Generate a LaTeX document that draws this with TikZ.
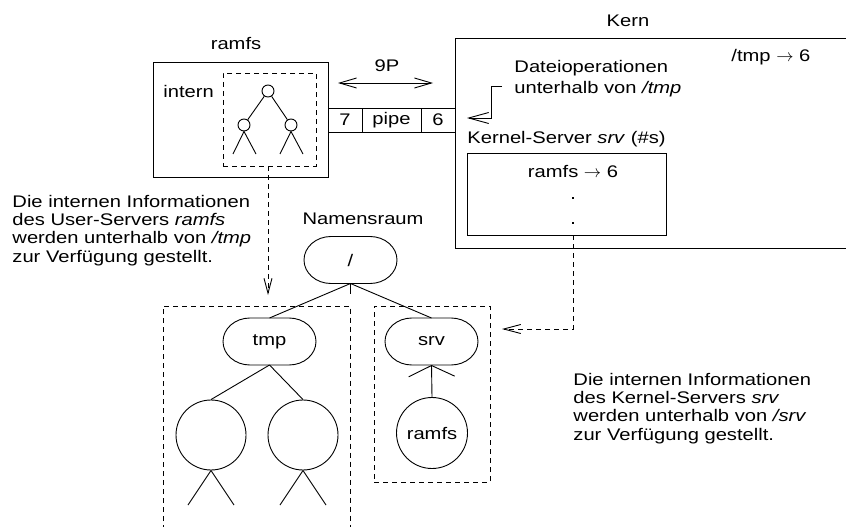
\documentclass[tikz,border=0pt]{standalone}
\usepackage{fontspec}
\setmainfont{Liberation Sans}[FakeStretch=1.2]
\usetikzlibrary{arrows.meta}
% outline with half-elliptic ends around a named node
\newcommand{\capsuleoutline}[1]{%
  \draw ([xshift=27pt]#1.north west) -- ([xshift=-27pt]#1.north east)
    arc[start angle=90, end angle=-90, x radius=27pt, y radius=23.5pt]
    -- ([xshift=27pt]#1.south west)
    arc[start angle=270, end angle=90, x radius=27pt, y radius=23.5pt] -- cycle;}
\begin{document}
\begin{tikzpicture}[x=1pt, y=-1pt, line width=0.9pt,
  font=\fontsize{16.8}{18.3}\selectfont,
  box/.style={draw, inner sep=0pt},
  dbox/.style={dash pattern=on 5pt off 4pt},
  lbl/.style={inner sep=0pt},
  leaf/.style={draw, circle, inner sep=0pt},
  rnode/.style={minimum width=93pt, minimum height=47pt, inner sep=0pt, outer sep=0pt},
]
\useasboundingbox (0,0) rectangle (846,527);

% ---------- user server ramfs ----------
\node[box, minimum width=175pt, minimum height=115pt] (ramfsbox) at (240.5,119.5) {};
\node[lbl, anchor=base] (ramfslbl) at (236,49) {ramfs};
\node[box, dbox, minimum width=93pt, minimum height=93pt] (intbox) at (269.5,119.5) {};
\node[lbl, anchor=base west] (intlbl) at (163,97) {intern};

% small internal tree
\node[leaf, minimum size=12pt] (t0) at (268,91) {};
\node[leaf, minimum size=12pt] (t1) at (244,125) {};
\node[leaf, minimum size=12pt] (t2) at (291,125) {};
\coordinate (t1a) at (233,154);
\coordinate (t1b) at (256,154);
\coordinate (t2a) at (280,154);
\coordinate (t2b) at (303,154);
\draw (t0) -- (t1);
\draw (t0) -- (t2);
\draw (t1a) -- (t1.south) -- (t1b);
\draw (t2a) -- (t2.south) -- (t2b);

% ---------- pipe ----------
\node[box, minimum width=34pt, minimum height=24pt] (p7) at (345,120) {7};
\node[box, minimum width=59pt, minimum height=24pt] (ppipe) at (391.5,120) {pipe};
\node[box, minimum width=34pt, minimum height=24pt] (p6) at (438,120) {6};

% 9P messages
\coordinate (nineL) at (338,83);
\coordinate (nineR) at (433,83);
\draw[{Straight Barb[length=17pt,width=10pt]}-{Straight Barb[length=17pt,width=10pt]}] (nineL) -- (nineR);
\node[lbl, anchor=base] (ninelbl) at (387,72) {9P};

% ---------- kernel ----------
\node[box, minimum width=400pt, minimum height=210pt] (kern) at (655,143) {};
\node[lbl, anchor=base] (kernlbl) at (628,27) {Kern};
\node[lbl, anchor=base west] (mnt) at (731,62) {/tmp $\rightarrow$ 6};
\node[lbl, anchor=base west, align=left, font=\fontsize{16.8}{20.5}\selectfont] (dop) at (514,93)
  {Dateioperationen\\unterhalb von \textit{/tmp}};
\coordinate (dopA) at (502,86);
\coordinate (dopTip) at (467,118);
\draw[-{Straight Barb[length=20pt,width=11pt]}] (dopA) -- ++(-11,0) |- (dopTip);

\node[lbl, anchor=base west] (kslbl) at (467,143) {Kernel-Server \textit{srv} (\#s)};
\node[box, minimum width=199pt, minimum height=82pt] (srvtab) at (566.5,194) {};
\node[lbl, anchor=base] (srventry) at (573,177) {ramfs $\rightarrow$ 6};
\fill (571.8,196.8) rectangle ++(2.6,2.6);
\fill (571.8,221.8) rectangle ++(2.6,2.6);

% ---------- name space ----------
\node[lbl, anchor=base] (nslbl) at (363,224) {Namensraum};
\node[rnode] (root) at (350.5,260) {/};
\node[rnode] (tmp) at (269.5,341.5) {tmp};
\node[rnode] (srv) at (431.5,341.5) {srv};
\capsuleoutline{root}
\capsuleoutline{tmp}
\capsuleoutline{srv}
\coordinate (tick) at (350.5,294);
\draw (root.south) -- (tick);
\draw (root.south) -- (tmp.north);
\draw (root.south) -- (srv.north);

\node[leaf, minimum size=70pt] (c1) at (211,435) {};
\node[leaf, minimum size=70pt] (c2) at (303,435) {};
\draw (tmp.south) -- (c1.north);
\draw (tmp.south) -- (c2.north);
\coordinate (c1a) at (188,505);
\coordinate (c1b) at (234,505);
\coordinate (c2a) at (280,505);
\coordinate (c2b) at (326,505);
\draw (c1a) -- (c1.south) -- (c1b);
\draw (c2a) -- (c2.south) -- (c2b);

\node[leaf, minimum size=71pt] (rc) at (432,433) {ramfs};
\draw[-{Straight Barb[length=11pt,width=46pt]}] (rc.north) -- (srv.south);

% dashed regions of the name space
\draw[dbox] (163,530) -- (163,306) -- (350.5,306) -- (350.5,530);
\node[box, dbox, minimum width=116pt, minimum height=176pt] (srvreg) at (432,394) {};

% ---------- mount relations ----------
\coordinate (ramfsA) at (268,166);
\coordinate (ramfsTip) at (268,295);
\draw[dbox, -{Straight Barb[length=15pt,width=8pt]}] (ramfsA) -- (ramfsTip);
\coordinate (srvA) at (573,235);
\coordinate (srvTip) at (502,329);
\draw[dbox, -{Straight Barb[length=17pt,width=9pt]}] (srvA) |- (srvTip);

% ---------- explanations ----------
\node[lbl, anchor=base west, align=left] (expl1) at (12,262)
  {Die internen Informationen\\des User-Servers \textit{ramfs}\\werden unterhalb von \textit{/tmp}\\zur Verfügung gestellt.};
\node[lbl, anchor=base west, align=left] (expl2) at (573,440)
  {Die internen Informationen\\des Kernel-Servers \textit{srv}\\werden unterhalb von \textit{/srv}\\zur Verfügung gestellt.};
\end{tikzpicture}
\end{document}
